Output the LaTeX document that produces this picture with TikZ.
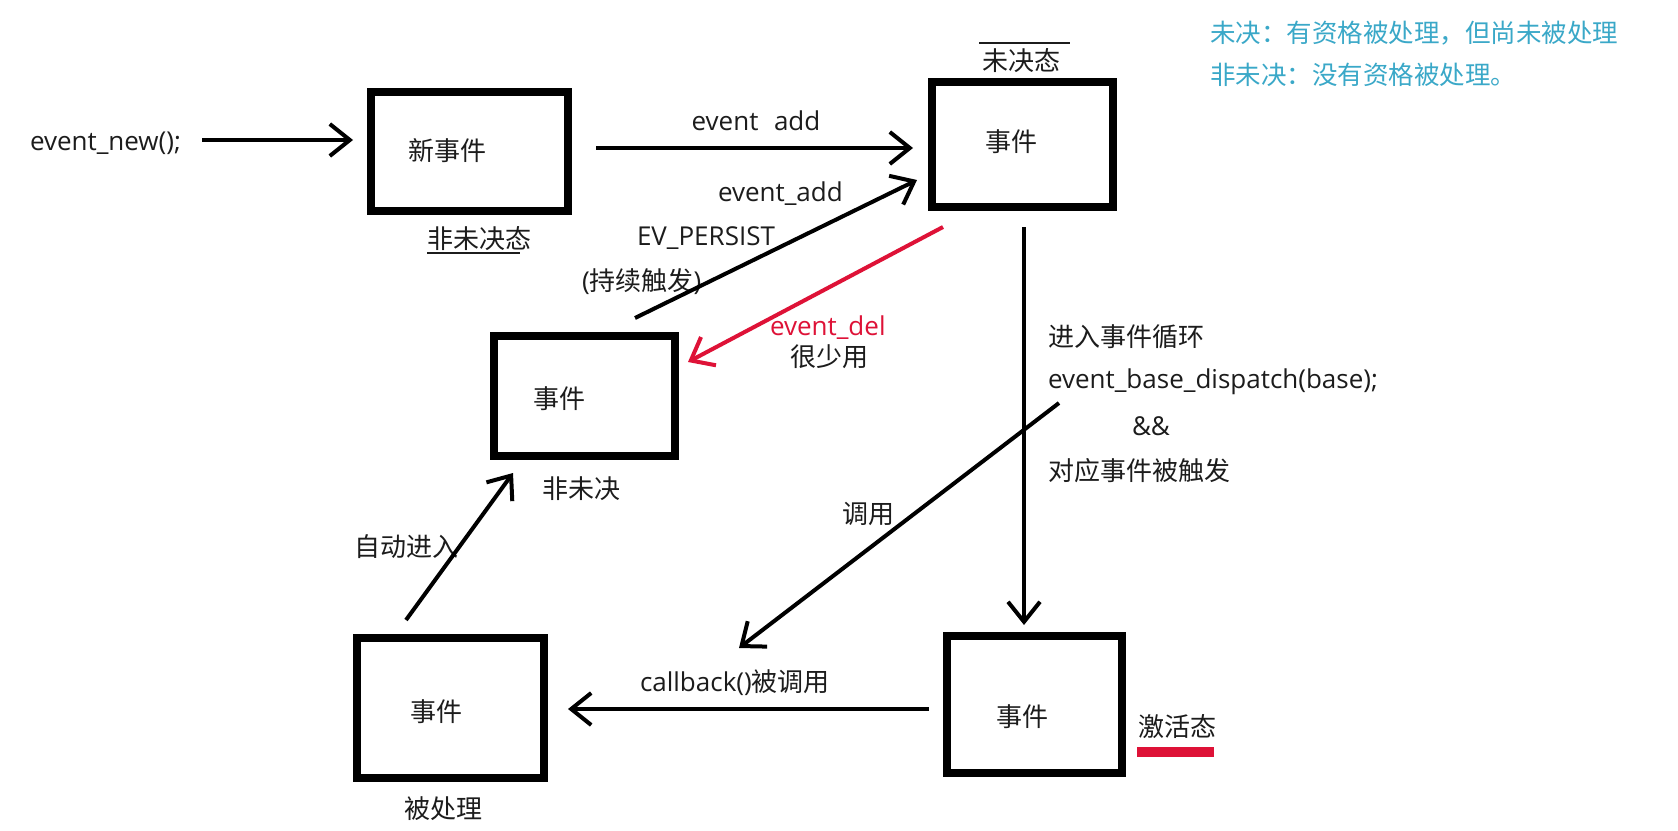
\documentclass[tikz,border=0pt]{standalone}
\usepackage{fontspec}
\setmainfont{Open Sans}
\newfontfamily\cjk{Noto Sans CJK SC}
\usetikzlibrary{arrows.meta}
\definecolor{ink}{RGB}{28,28,28}
\definecolor{noteblue}{RGB}{58,168,200}
\definecolor{delred}{RGB}{222,18,55}
\tikzset{
  box/.style={draw=black, line width=8pt, rectangle},
  lbl/.style={inner sep=0pt, outer sep=0pt, text=ink, font=\fontsize{26pt}{30pt}\selectfont, text height=20pt, text depth=4pt},
  wlbl/.style={lbl, anchor=west},
  note/.style={wlbl, text=noteblue, font=\fontsize{25.5pt}{28pt}\selectfont},
  arr/.style={draw=black, line width=4pt, -{Straight Barb[length=20pt,width=32pt]}},
  redarr/.style={arr, draw=delred},
}
\begin{document}
\begin{tikzpicture}[x=1pt,y=-1pt]
\useasboundingbox (0,0) rectangle (1678,830);
\fill[white] (0,0) rectangle (1678,830);

% boxes
\node[box, minimum width=197pt, minimum height=119pt] (b1) at (469.5,151.5) {};
\node[box, minimum width=181pt, minimum height=125pt] (b2) at (1022.5,144.5) {};
\node[box, minimum width=181pt, minimum height=120pt] (b3) at (584.5,396) {};
\node[box, minimum width=175pt, minimum height=137pt] (b4) at (1034.5,704.5) {};
\node[box, minimum width=187pt, minimum height=140pt] (b5) at (450.5,708) {};

% box texts
\node[lbl] (t1) at (447,152) {\cjk 新事件};
\node[lbl] (t2) at (1011,143) {\cjk 事件};
\node[lbl] (t3) at (559,400) {\cjk 事件};
\node[lbl] (t4) at (1022,718) {\cjk 事件};
\node[lbl] (t5) at (436,713) {\cjk 事件};

% labels
\node[wlbl] (lnew) at (30,142) {event\_new();};
\node[lbl] (ladd1) at (756,122) {event\hspace{0.6em}add};
\node[wlbl] (ladd2) at (718,193) {event\_add};
\node[wlbl] (lpers) at (637,237) {EV\_PERSIST};
\node[wlbl] (lcont) at (582,282) {({\cjk 持续触发})};
\node[wlbl, text=delred] (ldel) at (770,327) {event\_del};
\node[wlbl] (lrare) at (790,358) {\cjk 很少用};
\node[wlbl] (lpend) at (982,62) {\cjk 未决态};
\node[wlbl] (lnp1) at (427,240) {\cjk 非未决态};
\node[wlbl] (lnp2) at (542,490) {\cjk 非未决};
\node[wlbl] (lauto) at (354,548) {\cjk 自动进入};
\node[wlbl] (lcall) at (842,515) {\cjk 调用};
\node[wlbl] (lcb) at (640,683) {callback(){\cjk 被调用}};
\node[wlbl] (ldone) at (404,810) {\cjk 被处理};
\node[wlbl] (lloop) at (1048,338) {\cjk 进入事件循环};
\node[wlbl] (ldisp) at (1048,380) {event\_base\_dispatch(base);};
\node[wlbl] (land) at (1132,427) {\&\&};
\node[wlbl] (ltrig) at (1048,472) {\cjk 对应事件被触发};
\node[wlbl] (lact) at (1138,728) {\cjk 激活态};
\node[note] (n1) at (1210,34) {\cjk 未决：有资格被处理，但尚未被处理};
\node[note] (n2) at (1210,76) {\cjk 非未决：没有资格被处理。};

% over/underlines and bar
\coordinate (ol1) at (979,43); \coordinate (ol2) at (1070,43);
\draw[line width=1.5pt, ink] (ol1) -- (ol2);
\coordinate (ul1) at (427,253); \coordinate (ul2) at (520,253);
\draw[line width=1.5pt, ink] (ul1) -- (ul2);
\coordinate (rb1) at (1137,752); \coordinate (rb2) at (1214,752);
\draw[line width=10pt, delred] (rb1) -- (rb2);

% connector end points
\coordinate (a1s) at (202,140); \coordinate (a1e) at (353,140);
\coordinate (a2s) at (596,148); \coordinate (a2e) at (913,148);
\coordinate (a3s) at (635,318); \coordinate (a3e) at (917,180);
\coordinate (a4s) at (943,227); \coordinate (a4e) at (688,362);
\coordinate (a5s) at (1024,227); \coordinate (a5e) at (1024,625);
\coordinate (a6s) at (1059,403); \coordinate (a6e) at (739,648);
\coordinate (a7s) at (929,709); \coordinate (a7e) at (568,709);
\coordinate (a8s) at (406,620); \coordinate (a8e) at (513,473);

\draw[arr] (a1s) -- (a1e);
\draw[arr] (a2s) -- (a2e);
\draw[arr] (a3s) -- (a3e);
\draw[redarr] (a4s) -- (a4e);
\draw[arr] (a5s) -- (a5e);
\draw[arr] (a6s) -- (a6e);
\draw[arr] (a7s) -- (a7e);
\draw[arr] (a8s) -- (a8e);
\end{tikzpicture}
\end{document}
